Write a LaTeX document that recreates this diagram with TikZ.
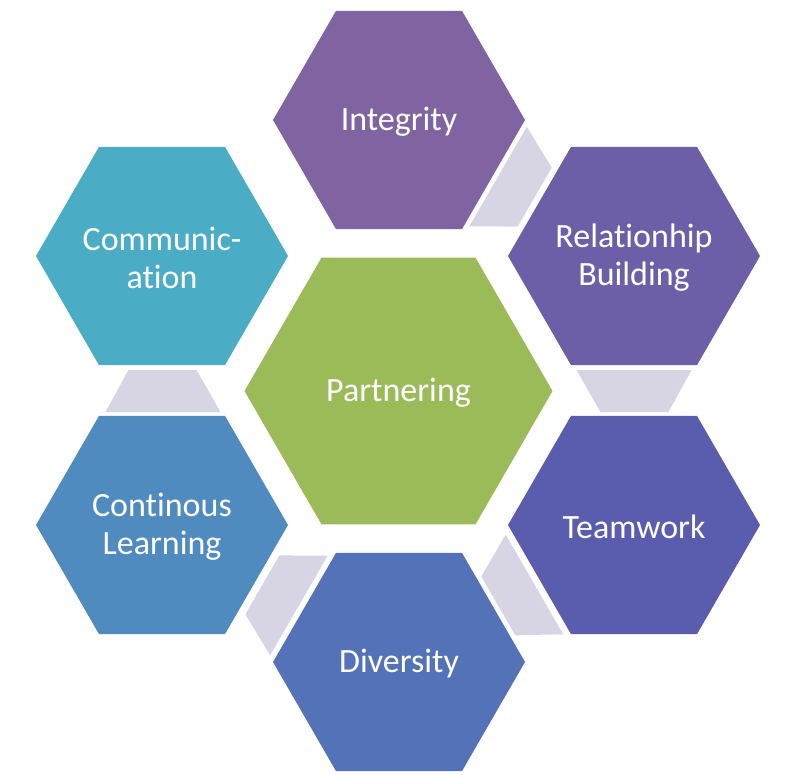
\documentclass[tikz,border=0pt]{standalone}
\usepackage{fontspec}
\setmainfont{Carlito}[Ligatures={NoCommon}]
\usetikzlibrary{shapes.geometric}
\definecolor{cInt}{HTML}{8064A2}
\definecolor{cRel}{HTML}{6C5FA7}
\definecolor{cTeam}{HTML}{5A5DAE}
\definecolor{cDiv}{HTML}{5372B8}
\definecolor{cCont}{HTML}{4F8BBF}
\definecolor{cComm}{HTML}{4BACC6}
\definecolor{cPart}{HTML}{9BBB59}
\definecolor{cLink}{HTML}{D7D4E3}
\begin{document}
\begin{tikzpicture}[x=1pt,y=-1pt,
  hexa/.style={regular polygon, regular polygon sides=6, minimum size=252pt,
    inner sep=0pt, outer sep=0pt, draw=none},
  hextext/.style={text=white, align=center, inner sep=0pt, yshift=-2pt,
    font=\fontsize{34}{38}\selectfont},
  linkpiece/.style={fill=cLink, draw=none}]
\useasboundingbox (0,0) rectangle (794,775);
\fill[white] (0,0) rectangle (794,775);
% hexagons
\node[hexa, fill=cPart, minimum size=308pt] (part) at (398.5,391) {};
\node[hexa, fill=cInt]  (int)  at (399,120) {};
\node[hexa, fill=cRel]  (rel)  at (634,256) {};
\node[hexa, fill=cTeam] (team) at (634,525) {};
\node[hexa, fill=cDiv]  (div)  at (399,662) {};
\node[hexa, fill=cCont] (cont) at (162,525) {};
\node[hexa, fill=cComm] (comm) at (162,256) {};
% labels
\node[hextext] (partT) at (part.center) {Partnering};
\node[hextext] (intT)  at (int.center)  {Integrity};
\node[hextext] (relT)  at (rel.center)  {Relationhip\\Building};
\node[hextext] (teamT) at (team.center) {Teamwork};
\node[hextext] (divT)  at (div.center)  {Diversity};
\node[hextext] (contT) at (cont.center) {Continous\\Learning};
\node[hextext] (commT) at (comm.center) {Communic-\\ation};
% connecting pieces between neighbouring hexagons
\begin{scope}[shift={(part.center)}]
  \foreach \a in {60,0,-60,-120,-180}{
    \fill[linkpiece, rotate=\a] (178,-21) -- (293,-21) -- (270,21) -- (202,21) -- cycle;
  }
\end{scope}
\end{tikzpicture}
\end{document}
